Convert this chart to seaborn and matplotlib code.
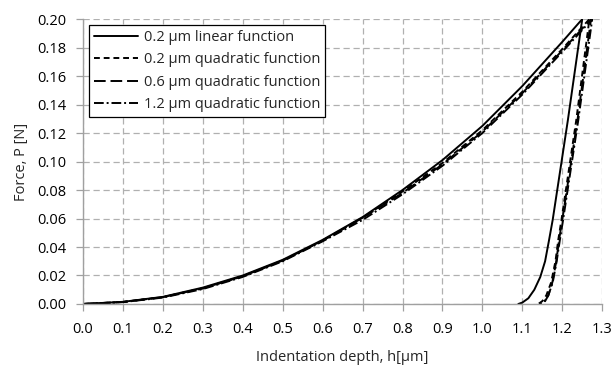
import numpy as np
import pandas as pd
import matplotlib
matplotlib.use("Agg")
import matplotlib.pyplot as plt
import seaborn as sns

# loading + unloading branches
series_names = ["0.2 \u00b5m linear function",
                "0.2 \u00b5m quadratic function",
                "0.6 \u00b5m quadratic function",
                "1.2 \u00b5m quadratic function"]

h_lin = [0.0, 0.1, 0.2, 0.3, 0.4, 0.5, 0.6, 0.7, 0.8, 0.9, 1.0, 1.1, 1.2, 1.25,
         1.214, 1.176, 1.167, 1.157, 1.145, 1.13, 1.115, 1.1, 1.09]
f_lin = [0.0, 0.0015, 0.005, 0.0115, 0.020, 0.031, 0.045, 0.061, 0.080, 0.101, 0.125, 0.153, 0.184, 0.200,
         0.129, 0.059, 0.045, 0.030, 0.019, 0.010, 0.004, 0.001, 0.0]

h_q02 = [0.0, 0.1, 0.2, 0.3, 0.4, 0.5, 0.6, 0.7, 0.8, 0.9, 1.0, 1.1, 1.2, 1.268,
         1.235, 1.198, 1.19, 1.183, 1.172, 1.16, 1.15, 1.14]
f_q02 = [0.0, 0.0014, 0.0048, 0.011, 0.0195, 0.0305, 0.0445, 0.0605, 0.079, 0.099, 0.122, 0.149, 0.179, 0.200,
         0.129, 0.059, 0.045, 0.030, 0.015, 0.006, 0.002, 0.0]

h_q06 = [0.0, 0.1, 0.2, 0.3, 0.4, 0.5, 0.6, 0.7, 0.8, 0.9, 1.0, 1.1, 1.2, 1.272,
         1.238, 1.2, 1.192, 1.185, 1.175, 1.165, 1.157, 1.15]
f_q06 = [0.0, 0.0014, 0.0048, 0.011, 0.0195, 0.0305, 0.0445, 0.0605, 0.078, 0.098, 0.121, 0.148, 0.178, 0.200,
         0.129, 0.059, 0.045, 0.030, 0.015, 0.006, 0.002, 0.0]

h_q12 = [0.0, 0.1, 0.2, 0.3, 0.4, 0.5, 0.6, 0.7, 0.8, 0.9, 1.0, 1.1, 1.2, 1.275,
         1.24, 1.202, 1.194, 1.186, 1.176, 1.165, 1.155, 1.145]
f_q12 = [0.0, 0.0013, 0.0045, 0.0105, 0.019, 0.030, 0.044, 0.059, 0.077, 0.097, 0.120, 0.147, 0.177, 0.200,
         0.129, 0.059, 0.045, 0.030, 0.015, 0.006, 0.002, 0.0]

rows = []
for name, hs, fs in zip(series_names, [h_lin, h_q02, h_q06, h_q12], [f_lin, f_q02, f_q06, f_q12]):
    for i, (h, f) in enumerate(zip(hs, fs)):
        rows.append({"curve": name, "order": i, "h": h, "F": f})
df = pd.DataFrame(rows)

sns.set_theme(style="white")
plt.rcParams['font.family'] = ['Open Sans', 'DejaVu Sans']

fig = plt.figure(figsize=(6.12, 3.67), dpi=100)
ax = fig.add_axes([0.1356, 0.1717, 0.8484, 0.7763])

dashes = {
    series_names[0]: "",
    series_names[1]: (3, 2),
    series_names[2]: (6, 2.5),
    series_names[3]: (5, 1.5, 1, 1.5),
}
sns.lineplot(data=df, x="h", y="F", hue="curve", style="curve",
             palette=["black"] * 4, dashes=dashes, sort=False, estimator=None,
             linewidth=1.4, ax=ax)

ax.set_xlim(0, 1.3)
ax.set_ylim(0, 0.2)
ax.set_xticks(np.arange(0, 1.31, 0.1))
ax.set_yticks(np.arange(0, 0.201, 0.02))
ax.xaxis.set_major_formatter(matplotlib.ticker.FormatStrFormatter('%.1f'))
ax.yaxis.set_major_formatter(matplotlib.ticker.FormatStrFormatter('%.2f'))
ax.grid(True, color="#b0b0b0", linestyle=(0, (5, 3)), linewidth=0.9)
ax.set_axisbelow(True)
for s in ["top", "right"]:
    ax.spines[s].set_visible(False)
for s in ["left", "bottom"]:
    ax.spines[s].set_color("#a0a0a0")
    ax.spines[s].set_linewidth(1.0)
ax.tick_params(axis="both", which="both", direction="out", length=5, width=0.9,
               color="#a0a0a0", labelsize=10.5, labelcolor="black", left=True, bottom=True)
ax.tick_params(axis="x", pad=8)
ax.tick_params(axis="y", pad=7)

ax.set_xlabel("Indentation depth, h[\u00b5m]", fontsize=10.5, labelpad=9)
ax.set_ylabel("Force, P [N]", fontsize=10.5, labelpad=6)

leg = ax.legend(loc="upper left", fontsize=10.5, frameon=True, fancybox=False,
                handlelength=3.0, borderaxespad=0.4, labelspacing=0.5,
                handletextpad=0.4, borderpad=0.35)
leg.get_frame().set_edgecolor("black")
leg.get_frame().set_linewidth(0.9)
leg.get_frame().set_alpha(1)

fig.savefig("out.png", dpi=100)
